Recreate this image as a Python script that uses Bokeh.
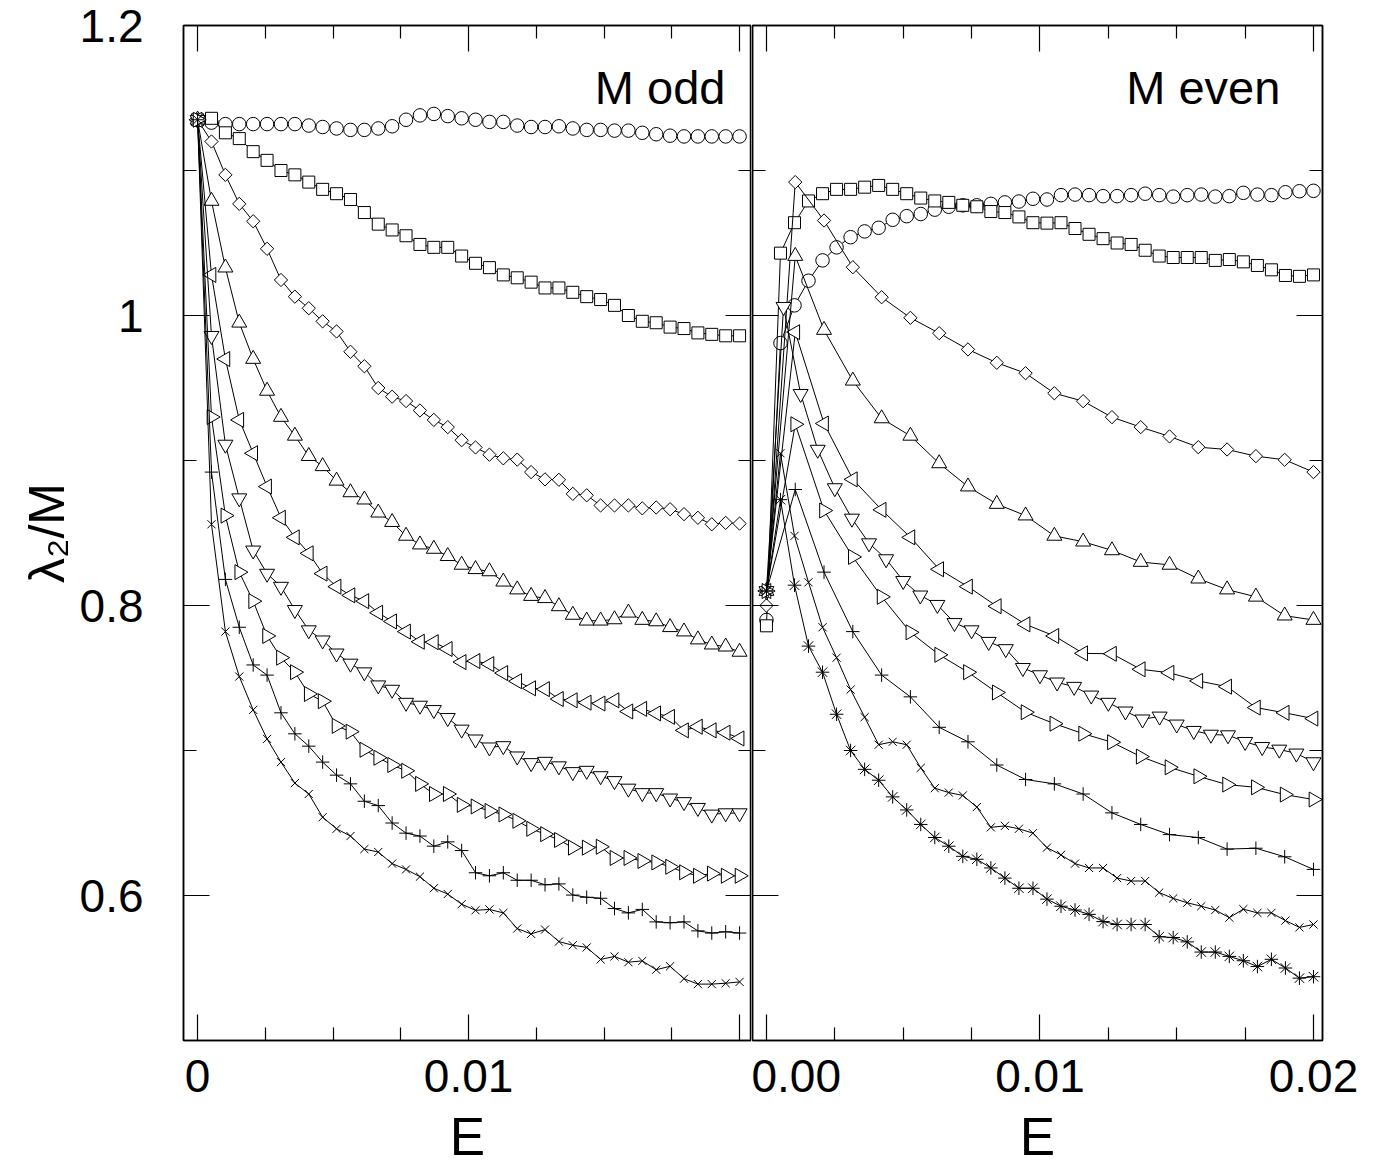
import numpy as np
from bokeh.plotting import figure
from bokeh.layouts import row
from bokeh.models import Range1d, FixedTicker, LinearAxis, Label
from bokeh.embed import file_html
from bokeh.resources import INLINE

# ---------------- data ----------------
# E grids (dense: 40 points, sparse: 20 points, down-triangle M even: 33 points)
E_dense = [0.0, 0.000513, 0.001026, 0.001538, 0.002051, 0.002564, 0.003077, 0.003590, 0.004103, 0.004615,
           0.005128, 0.005641, 0.006154, 0.006667, 0.007179, 0.007692, 0.008205, 0.008718, 0.009231, 0.009744,
           0.010256, 0.010769, 0.011282, 0.011795, 0.012308, 0.012821, 0.013333, 0.013846, 0.014359, 0.014872,
           0.015385, 0.015897, 0.016410, 0.016923, 0.017436, 0.017949, 0.018462, 0.018974, 0.019487, 0.020000]
E_sparse = [0.0, 0.001053, 0.002105, 0.003158, 0.004211, 0.005263, 0.006316, 0.007368, 0.008421, 0.009474,
            0.010526, 0.011579, 0.012632, 0.013684, 0.014737, 0.015789, 0.016842, 0.017895, 0.018947, 0.020000]
E_down = [0.0, 0.000625, 0.00125, 0.001875, 0.0025, 0.003125, 0.00375, 0.004375, 0.005, 0.005625,
          0.00625, 0.006875, 0.0075, 0.008125, 0.00875, 0.009375, 0.01, 0.010625, 0.01125, 0.011875,
          0.0125, 0.013125, 0.01375, 0.014375, 0.015, 0.015625, 0.01625, 0.016875, 0.0175, 0.018125,
          0.01875, 0.019375, 0.02]

# M odd (left panel)
odd_circle = [1.135, 1.133, 1.132, 1.132, 1.132, 1.132, 1.132, 1.132, 1.131, 1.130,
              1.129, 1.128, 1.128, 1.129, 1.1305, 1.135, 1.138, 1.139, 1.1375, 1.136,
              1.135, 1.1335, 1.1335, 1.131, 1.130, 1.130, 1.1305, 1.129, 1.128, 1.128,
              1.1275, 1.1275, 1.126, 1.125, 1.124, 1.1235, 1.1235, 1.1235, 1.1235, 1.1235]
odd_square = [1.135, 1.136, 1.126, 1.122, 1.113, 1.107, 1.100, 1.097, 1.092, 1.087,
              1.084, 1.080, 1.071, 1.063, 1.059, 1.055, 1.049, 1.047, 1.047, 1.041,
              1.036, 1.033, 1.028, 1.026, 1.023, 1.019, 1.019, 1.016, 1.013, 1.011,
              1.007, 1.000, 0.996, 0.995, 0.992, 0.991, 0.988, 0.987, 0.986, 0.986]
odd_diamond = [1.135, 1.120, 1.097, 1.077, 1.065, 1.046, 1.0245, 1.013, 1.005, 0.996,
               0.989, 0.975, 0.965, 0.950, 0.944, 0.941, 0.9345, 0.928, 0.923, 0.914,
               0.909, 0.904, 0.9015, 0.9006, 0.892, 0.887, 0.8867, 0.877, 0.876, 0.869,
               0.869, 0.869, 0.867, 0.8676, 0.8664, 0.863, 0.8605, 0.856, 0.857, 0.8565]
odd_up = [1.135, 1.079, 1.033, 0.995, 0.970, 0.948, 0.930, 0.917, 0.903, 0.896,
          0.886, 0.878, 0.873, 0.864, 0.8575, 0.848, 0.842, 0.839, 0.834, 0.828,
          0.825, 0.8235, 0.8164, 0.811, 0.8065, 0.805, 0.7994, 0.7935, 0.7895, 0.7895,
          0.7904, 0.795, 0.790, 0.789, 0.785, 0.782, 0.7765, 0.773, 0.7716, 0.768]
odd_left = [1.135, 1.028, 0.970, 0.928, 0.905, 0.882, 0.8605, 0.847, 0.836, 0.822,
            0.813, 0.807, 0.803, 0.795, 0.789, 0.782, 0.775, 0.7747, 0.770, 0.761,
            0.7617, 0.7596, 0.7534, 0.7478, 0.7429, 0.7423, 0.7355, 0.7346, 0.733, 0.7324,
            0.7346, 0.7269, 0.7287, 0.7256, 0.7232, 0.7139, 0.7164, 0.7139, 0.7123, 0.7083]
odd_down = [1.135, 0.986, 0.911, 0.874, 0.838, 0.822, 0.813, 0.797, 0.783, 0.776,
            0.767, 0.760, 0.754, 0.745, 0.742, 0.733, 0.731, 0.728, 0.7225, 0.7145,
            0.7077, 0.7022, 0.7031, 0.696, 0.6914, 0.6923, 0.6892, 0.6852, 0.6861, 0.6824,
            0.679, 0.6738, 0.6707, 0.6707, 0.667, 0.6645, 0.6605, 0.6559, 0.6568, 0.6568]
odd_right = [1.135, 0.930, 0.862, 0.823, 0.803, 0.779, 0.764, 0.754, 0.739, 0.734,
             0.717, 0.713, 0.7005, 0.695, 0.690, 0.686, 0.677, 0.670, 0.670, 0.6625,
             0.6614, 0.6583, 0.6559, 0.6515, 0.646, 0.6423, 0.6383, 0.633, 0.633, 0.6336,
             0.6259, 0.6259, 0.6238, 0.6228, 0.6198, 0.616, 0.6136, 0.6151, 0.6136, 0.6136]
odd_plus = [1.135, 0.892, 0.818, 0.785, 0.759, 0.752, 0.726, 0.7115, 0.703, 0.692,
            0.683, 0.677, 0.665, 0.662, 0.650, 0.643, 0.641, 0.634, 0.637, 0.631,
            0.6157, 0.6136, 0.6157, 0.6105, 0.6105, 0.6074, 0.608, 0.6003, 0.5988, 0.5981,
            0.591, 0.588, 0.5904, 0.5818, 0.5812, 0.5818, 0.5756, 0.5741, 0.575, 0.5741]
odd_x = [1.135, 0.856, 0.782, 0.751, 0.728, 0.708, 0.692, 0.6775, 0.670, 0.654,
         0.646, 0.641, 0.632, 0.630, 0.622, 0.618, 0.613, 0.605, 0.601, 0.594,
         0.5898, 0.5904, 0.588, 0.5772, 0.5735, 0.5765, 0.5682, 0.5657, 0.5642, 0.5559,
         0.558, 0.554, 0.5549, 0.5488, 0.5512, 0.5426, 0.5389, 0.5389, 0.5395, 0.5404]

# M even (right panel)
even_circle = [0.790, 0.981, 1.007, 1.024, 1.038, 1.047, 1.054, 1.058, 1.0605, 1.066,
               1.0685, 1.070, 1.073, 1.075, 1.076, 1.076, 1.077, 1.078, 1.0786, 1.0805,
               1.080, 1.083, 1.0834, 1.083, 1.0823, 1.0823, 1.083, 1.084, 1.083, 1.082,
               1.083, 1.0834, 1.082, 1.0823, 1.0846, 1.0834, 1.083, 1.085, 1.0857, 1.086]
even_square = [0.786, 1.043, 1.064, 1.079, 1.084, 1.087, 1.087, 1.0885, 1.0897, 1.087,
               1.084, 1.081, 1.079, 1.078, 1.076, 1.075, 1.0717, 1.071, 1.068, 1.064,
               1.0637, 1.064, 1.060, 1.056, 1.053, 1.050, 1.049, 1.045, 1.041, 1.040,
               1.040, 1.040, 1.038, 1.0386, 1.037, 1.0345, 1.0315, 1.0276, 1.027, 1.028]
even_diamond = [0.800, 1.092, 1.0655, 1.0333, 1.0126, 0.9984, 0.9878, 0.9766, 0.9674, 0.9602,
                0.9464, 0.9409, 0.9299, 0.923, 0.9166, 0.9092, 0.9076, 0.903, 0.9005, 0.892]
even_up = [0.810, 1.041, 0.990, 0.955, 0.929, 0.917, 0.898, 0.882, 0.870, 0.862,
           0.848, 0.844, 0.838, 0.830, 0.828, 0.8185, 0.811, 0.806, 0.793, 0.790]
even_left = [0.810, 0.9885, 0.9255, 0.887, 0.866, 0.847, 0.825, 0.813, 0.7995, 0.787,
             0.779, 0.767, 0.7667, 0.756, 0.7536, 0.748, 0.744, 0.7296, 0.726, 0.722]
even_down = [0.810, 1.006, 0.946, 0.9075, 0.881, 0.860, 0.843, 0.832, 0.817, 0.807,
             0.8005, 0.788, 0.783, 0.775, 0.770, 0.757, 0.752, 0.747, 0.744, 0.738,
             0.733, 0.727, 0.7215, 0.7235, 0.718, 0.7136, 0.711, 0.7106, 0.706, 0.7025,
             0.7007, 0.698, 0.692]
even_right = [0.810, 0.925, 0.8655, 0.8335, 0.806, 0.7815, 0.766, 0.754, 0.740, 0.7264,
              0.7185, 0.7116, 0.7057, 0.6958, 0.6884, 0.6822, 0.6765, 0.6746, 0.6696, 0.6662]
even_plus = [0.810, 0.880, 0.823, 0.782, 0.752, 0.737, 0.716, 0.706, 0.690, 0.680,
             0.677, 0.670, 0.657, 0.649, 0.642, 0.640, 0.632, 0.6326, 0.6267, 0.618]
even_x = [0.810, 0.905, 0.848, 0.816, 0.785, 0.764, 0.742, 0.723, 0.704, 0.706,
          0.704, 0.688, 0.674, 0.671, 0.669, 0.661, 0.647, 0.648, 0.646, 0.643,
          0.633, 0.628, 0.622, 0.619, 0.619, 0.612, 0.610, 0.610, 0.602, 0.598,
          0.595, 0.5926, 0.590, 0.5847, 0.5906, 0.588, 0.588, 0.5827, 0.578, 0.580]
even_star = [0.810, 0.873, 0.814, 0.772, 0.754, 0.725, 0.700, 0.687, 0.6795, 0.668,
             0.659, 0.649, 0.640, 0.634, 0.627, 0.625, 0.619, 0.612, 0.605, 0.605,
             0.5975, 0.5926, 0.590, 0.587, 0.582, 0.580, 0.580, 0.580, 0.5716, 0.571,
             0.568, 0.561, 0.561, 0.558, 0.555, 0.551, 0.556, 0.550, 0.543, 0.544]

x_major = [0.0, 0.01, 0.02]
x_minor = [0.0025, 0.005, 0.0075, 0.0125, 0.015, 0.0175]
y_major = [0.6, 0.8, 1.0, 1.2]
y_minor = [0.5, 0.7, 0.9, 1.1]
y_labels = {0.6: "0.6", 0.8: "0.8", 1.0: "1", 1.2: "1.2"}
x_labels_odd = {0.0: "0", 0.01: "0.01", 0.02: ""}
x_labels_even = {0.0: "0.00", 0.01: "0.01", 0.02: "0.02"}

FONT = "Liberation Sans"

# marker styles: (marker, size, angle)
STY = {
    "circle": ("circle", 13.5, 0.0),
    "square": ("square", 12, 0.0),
    "diamond": ("square", 9.4, np.pi / 4),
    "up": ("triangle", 15, 0.0),
    "left": ("triangle", 15, np.pi / 2),
    "down": ("inverted_triangle", 15, 0.0),
    "right": ("triangle", 15, -np.pi / 2),
    "plus": ("cross", 13.5, 0.0),
    "x": ("x", 11.5, 0.0),
    "star": ("asterisk", 13.5, 0.0),
}


def style_axis(ax, labels=True, overrides=None):
    ax.major_tick_in = 26
    ax.major_tick_out = 0
    ax.minor_tick_in = 13
    ax.minor_tick_out = 0
    ax.major_tick_line_color = "black"
    ax.minor_tick_line_color = "black"
    ax.major_tick_line_width = 1.2
    ax.minor_tick_line_width = 1.2
    ax.axis_line_color = "black"
    ax.axis_line_width = 1.5
    if labels:
        ax.major_label_text_font = FONT
        ax.major_label_text_font_size = "46px"
        ax.major_label_text_color = "black"
        if overrides:
            ax.major_label_overrides = overrides
    else:
        ax.major_label_text_color = None
        ax.major_label_text_font_size = "1px"
        ax.major_label_standoff = 0
        ax.axis_label = None


def make_panel(xr, fw, x_over, left_labels, series, title, title_x):
    kw = dict(frame_width=fw, frame_height=1015, x_range=xr, y_range=Range1d(0.5, 1.2),
              output_backend="svg", toolbar_location=None,
              min_border_top=25, min_border_bottom=110)
    if left_labels:
        kw.update(min_border_left=183, min_border_right=0)
    else:
        kw.update(min_border_left=1, min_border_right=45)
    p = figure(**kw)
    p.xgrid.visible = False
    p.ygrid.visible = False
    p.outline_line_color = "black"
    p.outline_line_width = 1.5
    p.background_fill_color = "white"
    p.border_fill_color = "white"

    xa = p.xaxis[0]
    xa.ticker = FixedTicker(ticks=x_major, minor_ticks=x_minor)
    style_axis(xa, True, x_over)
    xa.major_label_standoff = 19
    xa.axis_label = "E"
    xa.axis_label_text_font = FONT
    xa.axis_label_text_font_size = "53px"
    xa.axis_label_text_font_style = "normal"
    xa.axis_label_text_color = "black"
    xa.axis_label_standoff = 12

    ya = p.yaxis[0]
    ya.ticker = FixedTicker(ticks=y_major, minor_ticks=y_minor)
    if left_labels:
        style_axis(ya, True, y_labels)
        ya.major_label_standoff = 40
        ya.axis_label = "λ₂/M"
        ya.axis_label_text_font = FONT
        ya.axis_label_text_font_size = "50px"
        ya.axis_label_text_font_style = "normal"
        ya.axis_label_text_color = "black"
        ya.axis_label_standoff = 2
    else:
        style_axis(ya, False)

    top = LinearAxis(ticker=FixedTicker(ticks=x_major, minor_ticks=x_minor))
    style_axis(top, False)
    p.add_layout(top, "above")
    right = LinearAxis(ticker=FixedTicker(ticks=y_major, minor_ticks=y_minor))
    style_axis(right, False)
    p.add_layout(right, "right")

    for xs, ys, key in series:
        mk, sz, ang = STY[key]
        p.line(xs, ys, line_color="black", line_width=1)
        p.scatter(xs, ys, marker=mk, size=sz, angle=ang, fill_color="white",
                  line_color="black", line_width=1)

    # panel title
    p.add_layout(Label(x=title_x, y=1.157, text=title,
                       text_align="right", text_baseline="middle", text_font=FONT,
                       text_font_size="47px", text_color="black"))
    return p


odd_series = [
    (E_dense, odd_circle, "circle"),
    (E_dense, odd_square, "square"),
    (E_dense, odd_diamond, "diamond"),
    (E_dense, odd_up, "up"),
    (E_dense, odd_left, "left"),
    (E_dense, odd_down, "down"),
    (E_dense, odd_right, "right"),
    (E_dense, odd_plus, "plus"),
    (E_dense, odd_x, "x"),
]
even_series = [
    (E_dense, even_circle, "circle"),
    (E_dense, even_square, "square"),
    (E_sparse, even_diamond, "diamond"),
    (E_sparse, even_up, "up"),
    (E_sparse, even_left, "left"),
    (E_down, even_down, "down"),
    (E_sparse, even_right, "right"),
    (E_sparse, even_plus, "plus"),
    (E_dense, even_x, "x"),
    (E_dense, even_star, "star"),
]

p1 = make_panel(Range1d(-0.00052, 0.02044), 568, x_labels_odd, True, odd_series, "M odd", 0.01948)
p2 = make_panel(Range1d(-0.00051, 0.02033), 570, x_labels_even, False, even_series, "M even", 0.01879)

layout = row(p1, p2)
open("out.html", "w").write(file_html(layout, INLINE))
